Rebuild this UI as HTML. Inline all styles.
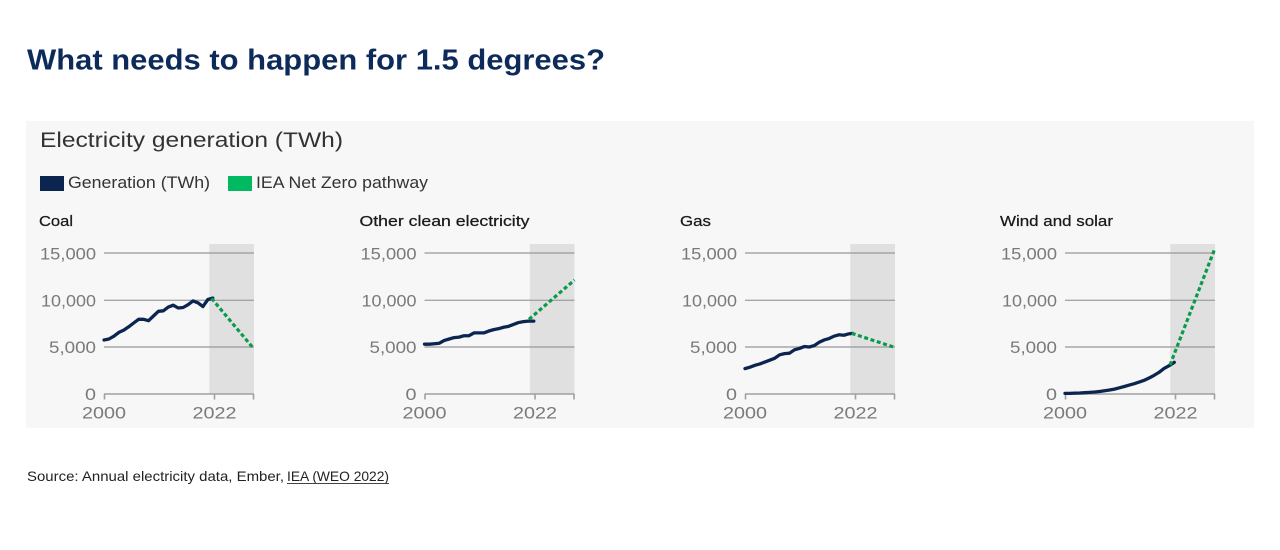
<!DOCTYPE html>
<html>
<head>
<meta charset="utf-8">
<style>
  html, body { margin:0; padding:0; background:#ffffff; }
  svg { display:block; }
  text { font-family: "Liberation Sans", sans-serif; }
</style>
</head>
<body>
<svg width="1280" height="550" viewBox="0 0 1280 550" xmlns="http://www.w3.org/2000/svg">
  <rect x="0" y="0" width="1280" height="550" fill="#ffffff"/>
  <!-- Title -->
  <text x="27" y="69.5" font-size="29" font-weight="bold" fill="#0c2b5b" textLength="578" lengthAdjust="spacingAndGlyphs">What needs to happen for 1.5 degrees?</text>

  <!-- Chart panel -->
  <rect x="26" y="121" width="1228" height="307" fill="#f7f7f7"/>
  <text x="40" y="147" font-size="21" fill="#333333" textLength="303" lengthAdjust="spacingAndGlyphs">Electricity generation (TWh)</text>

  <!-- Legend -->
  <rect x="40" y="176" width="24" height="15" fill="#0b2550"/>
  <text x="68" y="188" font-size="16.5" fill="#333333" textLength="142" lengthAdjust="spacingAndGlyphs">Generation (TWh)</text>
  <rect x="228" y="176" width="24" height="15" fill="#00b960"/>
  <text x="256" y="188" font-size="16.5" fill="#333333" textLength="172" lengthAdjust="spacingAndGlyphs">IEA Net Zero pathway</text>

  <!-- Panel 1: Coal -->
  <g transform="translate(104,0)">
    <text x="-65" y="226" font-size="15" fill="#1a1a1a" stroke="#1a1a1a" stroke-width="0.25" textLength="34" lengthAdjust="spacingAndGlyphs">Coal</text>
    <rect x="105.3" y="244" width="44.7" height="150" fill="#e0e0e0"/>
    <g stroke="#9a9a9a" stroke-width="1.4" opacity="0.85">
      <line x1="0" y1="253" x2="150" y2="253"/>
      <line x1="0" y1="300.3" x2="150" y2="300.3"/>
      <line x1="0" y1="347" x2="150" y2="347"/>
    </g>
    <g stroke="#a0a0a0" stroke-width="1.6">
      <line x1="0" y1="394" x2="150" y2="394"/>
      <line x1="0.5" y1="394" x2="0.5" y2="399.5"/>
      <line x1="110.5" y1="394" x2="110.5" y2="399.5"/>
      <line x1="149.5" y1="394" x2="149.5" y2="399.5"/>
    </g>
    <g font-size="17" fill="#7a7a7a" text-anchor="end">
      <text x="-8" y="259.5" textLength="56" lengthAdjust="spacingAndGlyphs">15,000</text>
      <text x="-8" y="306.5" textLength="55" lengthAdjust="spacingAndGlyphs">10,000</text>
      <text x="-8" y="353" textLength="47" lengthAdjust="spacingAndGlyphs">5,000</text>
      <text x="-8" y="400" textLength="11" lengthAdjust="spacingAndGlyphs">0</text>
    </g>
    <g font-size="17" fill="#7a7a7a" text-anchor="middle">
      <text x="0" y="418.5" textLength="44" lengthAdjust="spacingAndGlyphs">2000</text>
      <text x="110.5" y="418.5" textLength="44" lengthAdjust="spacingAndGlyphs">2022</text>
    </g>
    <polyline fill="none" stroke="#0b2550" stroke-width="3.3" stroke-linejoin="round" stroke-linecap="round"
      points="0,339.95 4.95,339.0 9.89,336.2 14.84,332.4 19.78,330.1 24.73,326.8 29.67,323.0 34.62,319.3 39.56,319.3 44.51,320.7 49.45,316.0 54.40,311.3 59.34,310.8 64.29,307.05 69.23,305.2 74.18,308.0 79.12,307.5 84.07,304.7 89.01,300.9 93.96,302.8 98.90,306.6 103.85,299.5 108.79,298.1"/>
    <line x1="107.5" y1="298.3" x2="149.8" y2="348.8" stroke="#0a9a4a" stroke-width="3.2" stroke-dasharray="4 2.6"/>
  </g>

  <!-- Panel 2: Other clean electricity -->
  <g transform="translate(424.5,0)">
    <text x="-65" y="226" font-size="15" fill="#1a1a1a" stroke="#1a1a1a" stroke-width="0.25" textLength="170" lengthAdjust="spacingAndGlyphs">Other clean electricity</text>
    <rect x="105.3" y="244" width="44.7" height="150" fill="#e0e0e0"/>
    <g stroke="#9a9a9a" stroke-width="1.4" opacity="0.85">
      <line x1="0" y1="253" x2="150" y2="253"/>
      <line x1="0" y1="300.3" x2="150" y2="300.3"/>
      <line x1="0" y1="347" x2="150" y2="347"/>
    </g>
    <g stroke="#a0a0a0" stroke-width="1.6">
      <line x1="0" y1="394" x2="150" y2="394"/>
      <line x1="0.5" y1="394" x2="0.5" y2="399.5"/>
      <line x1="110.5" y1="394" x2="110.5" y2="399.5"/>
      <line x1="149.5" y1="394" x2="149.5" y2="399.5"/>
    </g>
    <g font-size="17" fill="#7a7a7a" text-anchor="end">
      <text x="-8" y="259.5" textLength="56" lengthAdjust="spacingAndGlyphs">15,000</text>
      <text x="-8" y="306.5" textLength="55" lengthAdjust="spacingAndGlyphs">10,000</text>
      <text x="-8" y="353" textLength="47" lengthAdjust="spacingAndGlyphs">5,000</text>
      <text x="-8" y="400" textLength="11" lengthAdjust="spacingAndGlyphs">0</text>
    </g>
    <g font-size="17" fill="#7a7a7a" text-anchor="middle">
      <text x="0" y="418.5" textLength="44" lengthAdjust="spacingAndGlyphs">2000</text>
      <text x="110.5" y="418.5" textLength="44" lengthAdjust="spacingAndGlyphs">2022</text>
    </g>
    <polyline fill="none" stroke="#0b2550" stroke-width="3.3" stroke-linejoin="round" stroke-linecap="round"
      points="0,344.18 4.95,344.18 9.89,343.71 14.84,343.24 19.78,340.42 24.73,339.01 29.67,337.6 34.62,337.13 39.56,335.72 44.51,335.72 49.45,332.9 54.40,332.9 59.34,332.9 64.29,331.02 69.23,329.61 74.18,328.67 79.12,327.26 84.07,326.32 89.01,324.44 93.96,322.56 98.90,321.62 103.85,321.15 109.3,321.15"/>
    <line x1="104.5" y1="319.3" x2="150" y2="280" stroke="#0a9a4a" stroke-width="3.2" stroke-dasharray="4 2.6"/>
  </g>

  <!-- Panel 3: Gas -->
  <g transform="translate(745,0)">
    <text x="-65" y="226" font-size="15" fill="#1a1a1a" stroke="#1a1a1a" stroke-width="0.25" textLength="31" lengthAdjust="spacingAndGlyphs">Gas</text>
    <rect x="105.3" y="244" width="44.7" height="150" fill="#e0e0e0"/>
    <g stroke="#9a9a9a" stroke-width="1.4" opacity="0.85">
      <line x1="0" y1="253" x2="150" y2="253"/>
      <line x1="0" y1="300.3" x2="150" y2="300.3"/>
      <line x1="0" y1="347" x2="150" y2="347"/>
    </g>
    <g stroke="#a0a0a0" stroke-width="1.6">
      <line x1="0" y1="394" x2="150" y2="394"/>
      <line x1="0.5" y1="394" x2="0.5" y2="399.5"/>
      <line x1="110.5" y1="394" x2="110.5" y2="399.5"/>
      <line x1="149.5" y1="394" x2="149.5" y2="399.5"/>
    </g>
    <g font-size="17" fill="#7a7a7a" text-anchor="end">
      <text x="-8" y="259.5" textLength="56" lengthAdjust="spacingAndGlyphs">15,000</text>
      <text x="-8" y="306.5" textLength="55" lengthAdjust="spacingAndGlyphs">10,000</text>
      <text x="-8" y="353" textLength="47" lengthAdjust="spacingAndGlyphs">5,000</text>
      <text x="-8" y="400" textLength="11" lengthAdjust="spacingAndGlyphs">0</text>
    </g>
    <g font-size="17" fill="#7a7a7a" text-anchor="middle">
      <text x="0" y="418.5" textLength="44" lengthAdjust="spacingAndGlyphs">2000</text>
      <text x="110.5" y="418.5" textLength="44" lengthAdjust="spacingAndGlyphs">2022</text>
    </g>
    <polyline fill="none" stroke="#0b2550" stroke-width="3.3" stroke-linejoin="round" stroke-linecap="round"
      points="0,368.62 4.95,367.21 9.89,365.33 14.84,363.92 19.78,362.04 24.73,360.16 29.67,358.28 34.62,354.8 39.56,353.6 44.51,353.2 49.45,349.82 54.40,348.41 59.34,346.53 64.29,347.0 69.23,345.59 74.18,342.3 79.12,339.95 84.07,338.54 89.01,336.19 93.96,334.78 98.90,335.25 103.85,333.84 107.5,333.37"/>
    <line x1="106.7" y1="333.3" x2="149.3" y2="347.3" stroke="#0a9a4a" stroke-width="3.2" stroke-dasharray="4 2.6"/>
  </g>

  <!-- Panel 4: Wind and solar -->
  <g transform="translate(1065,0)">
    <text x="-65" y="226" font-size="15" fill="#1a1a1a" stroke="#1a1a1a" stroke-width="0.25" textLength="113" lengthAdjust="spacingAndGlyphs">Wind and solar</text>
    <rect x="105.3" y="244" width="44.7" height="150" fill="#e0e0e0"/>
    <g stroke="#9a9a9a" stroke-width="1.4" opacity="0.85">
      <line x1="0" y1="253" x2="150" y2="253"/>
      <line x1="0" y1="300.3" x2="150" y2="300.3"/>
      <line x1="0" y1="347" x2="150" y2="347"/>
    </g>
    <g stroke="#a0a0a0" stroke-width="1.6">
      <line x1="0" y1="394" x2="150" y2="394"/>
      <line x1="0.5" y1="394" x2="0.5" y2="399.5"/>
      <line x1="110.5" y1="394" x2="110.5" y2="399.5"/>
      <line x1="149.5" y1="394" x2="149.5" y2="399.5"/>
    </g>
    <g font-size="17" fill="#7a7a7a" text-anchor="end">
      <text x="-8" y="259.5" textLength="56" lengthAdjust="spacingAndGlyphs">15,000</text>
      <text x="-8" y="306.5" textLength="55" lengthAdjust="spacingAndGlyphs">10,000</text>
      <text x="-8" y="353" textLength="47" lengthAdjust="spacingAndGlyphs">5,000</text>
      <text x="-8" y="400" textLength="11" lengthAdjust="spacingAndGlyphs">0</text>
    </g>
    <g font-size="17" fill="#7a7a7a" text-anchor="middle">
      <text x="0" y="418.5" textLength="44" lengthAdjust="spacingAndGlyphs">2000</text>
      <text x="110.5" y="418.5" textLength="44" lengthAdjust="spacingAndGlyphs">2022</text>
    </g>
    <polyline fill="none" stroke="#0b2550" stroke-width="3.3" stroke-linejoin="round" stroke-linecap="round"
      points="0,393.4 4.95,393.34 9.89,393.15 14.84,392.97 19.78,392.68 24.73,392.4 29.67,392.03 34.62,391.46 39.56,390.8 44.51,390.05 49.45,389.11 54.40,387.8 59.34,386.48 64.29,385.07 69.23,383.66 74.18,382.06 79.12,380.37 84.07,378.02 89.01,375.4 93.96,372.4 98.90,368.6 103.85,365.8 109.3,362.3"/>
    <line x1="105" y1="365" x2="149.3" y2="250" stroke="#0a9a4a" stroke-width="3.2" stroke-dasharray="4 2.6"/>
  </g>

  <!-- Source -->
  <text x="27" y="481" font-size="14" fill="#222222" textLength="257" lengthAdjust="spacingAndGlyphs">Source: Annual electricity data, Ember,</text>
  <text x="287" y="481" font-size="14" fill="#222222" textLength="102" lengthAdjust="spacingAndGlyphs">IEA (WEO 2022)</text>
  <line x1="287" y1="483.5" x2="389" y2="483.5" stroke="#444444" stroke-width="1"/>
</svg>
</body>
</html>
